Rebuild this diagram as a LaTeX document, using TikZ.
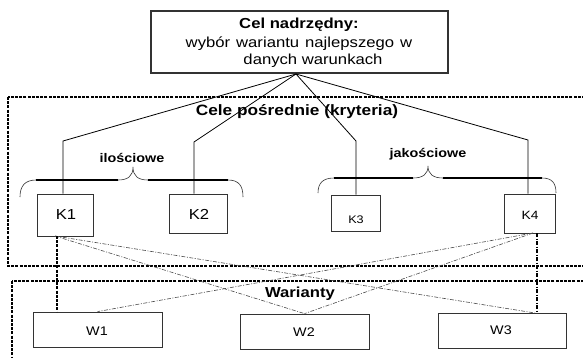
\documentclass[tikz,border=0pt]{standalone}
\usepackage{fontspec}
\setmainfont{Liberation Sans}[FakeStretch=1.15]
\begin{document}
\begin{tikzpicture}[x=1pt,y=-1pt,
  rbox/.style={draw=black!80,line width=0.8pt,inner sep=0pt,fill=white},
  bigdash/.style={draw=black,line width=1.4pt,dash pattern=on 3pt off 1.2pt},
  link/.style={draw=black,line width=0.8pt},
  thindd/.style={draw=black!70,line width=0.6pt,dash pattern=on 4pt off 1.5pt on 1pt off 1.5pt},
  vdash/.style={draw=black,line width=1.2pt,dash pattern=on 3pt off 1.2pt},
  vdd/.style={draw=black,line width=1.2pt,dash pattern=on 4pt off 1.5pt on 1pt off 1.5pt},
  txt/.style={inner sep=0pt,text=black},
  bthin/.style={draw=black!80,line width=0.6pt},
  bthick/.style={draw=black,line width=2pt}]
\useasboundingbox (0,0) rectangle (583,357);
\clip (0,0) rectangle (583,357);
\fill[white] (0,0) rectangle (583,357);

% dashed group frames
\draw[bigdash] (8,97) rectangle (600,266);
\draw[bigdash] (12,281) rectangle (600,380);

% top box
\node[rbox,line width=1.3pt,minimum width=297pt,minimum height=62pt] (top) at (299.5,42) {};
\node[txt,anchor=base,font=\fontsize{14.5}{16}\selectfont\bfseries] (t1) at (299,28) {Cel nadrzędny:};
\node[txt,anchor=base,font=\fontsize{14.5}{16}\selectfont] (t2) at (299,47.5) {wybór\hskip 6pt wariantu\hskip 6pt najlepszego\hskip 6pt w};
\node[txt,anchor=base,font=\fontsize{14.5}{16}\selectfont] (t3) at (313,64) {danych warunkach};

% K boxes
\node[rbox,minimum width=56pt,minimum height=42pt] (K1) at (65,215) {};
\node[rbox,minimum width=58pt,minimum height=39pt] (K2) at (198,213.5) {};
\node[rbox,minimum width=49pt,minimum height=36pt] (K3) at (355.5,213) {};
\node[rbox,minimum width=51pt,minimum height=39pt] (K4) at (529.5,213.5) {};
\node[txt,font=\fontsize{14.5}{16}\selectfont] (k1t) at (66,215) {K1};
\node[txt,font=\fontsize{14.5}{16}\selectfont] (k2t) at (199,214) {K2};
\node[txt,font=\fontsize{11}{13}\selectfont] (k3t) at (356,220) {K3};
\node[txt,font=\fontsize{12}{14}\selectfont] (k4t) at (530,215) {K4};

% W boxes
\node[rbox,minimum width=129pt,minimum height=35pt] (W1) at (97.5,329.5) {};
\node[rbox,minimum width=129pt,minimum height=35pt] (W2) at (304.5,331.5) {};
\node[rbox,minimum width=128pt,minimum height=35pt] (W3) at (502,330.5) {};
\node[txt,font=\fontsize{12.5}{14}\selectfont] (w1t) at (97,331) {W1};
\node[txt,font=\fontsize{12.5}{14}\selectfont] (w2t) at (304,332) {W2};
\node[txt,font=\fontsize{12.5}{14}\selectfont] (w3t) at (501,330) {W3};

% labels
\node[txt,font=\fontsize{15}{17}\selectfont\bfseries] (cele) at (297,112) {Cele pośrednie (kryteria)};
\node[txt,font=\fontsize{14.5}{16}\selectfont\bfseries] (war) at (300,294) {Warianty};
\node[txt,font=\fontsize{12.5}{14}\selectfont\bfseries] (ilo) at (132,158) {ilościowe};
\node[txt,font=\fontsize{12.5}{14}\selectfont\bfseries] (jak) at (428,154) {jakościowe};

% connectors from top box
\coordinate (apex) at (296,74);
\coordinate (e1) at (63,141);
\coordinate (e2) at (194,142);
\coordinate (e3) at (356,141);
\coordinate (e4) at (528,140);
\draw[link] (apex) -- (e1) -- (e1 |- K1.north);
\draw[link] (apex) -- (e2) -- (e2 |- K2.north);
\draw[link] (apex) -- (e3) -- (e3 |- K3.north);
\draw[link] (apex) -- (e4) -- (e4 |- K4.north);

% braces
\draw[bthin] (20,197) .. controls (20,186) and (25,180) .. (36,180);
\draw[bthick] (36,180) -- (118,180);
\draw[bthin] (118,180) .. controls (128,180) and (133,176) .. (133,167)
   .. controls (133,176) and (138,180) .. (148,180);
\draw[bthick] (148,180) -- (228,180);
\draw[bthin] (228,180) .. controls (239,180) and (243,186) .. (243,197);

\draw[bthin] (318,193) .. controls (318,183) and (323,178) .. (334,178);
\draw[bthick] (334,178) -- (413,178);
\draw[bthin] (413,178) .. controls (423,178) and (428,174) .. (428,166)
   .. controls (428,174) and (433,178) .. (443,178);
\draw[bthick] (443,178) -- (542,178);
\draw[bthin] (542,178) .. controls (552,178) and (556,183) .. (556,193);

% links criteria -> variants
\coordinate (k1a) at (55,236);
\coordinate (k1v) at (57,236);
\coordinate (k4a) at (533,233);
\coordinate (k4v) at (537,233);
\coordinate (w3a) at (535,313);
\draw[thindd] (k1a) -- (W2.north);
\draw[thindd] (k1a) -- (w3a);
\draw[thindd] (k4a) -- (W1.north);
\draw[thindd] (k4a) -- (W2.north);
\draw[vdash] (k1v) -- (k1v |- W1.north);
\draw[vdd] (k4v) -- (k4v |- W3.north);
\end{tikzpicture}
\end{document}
